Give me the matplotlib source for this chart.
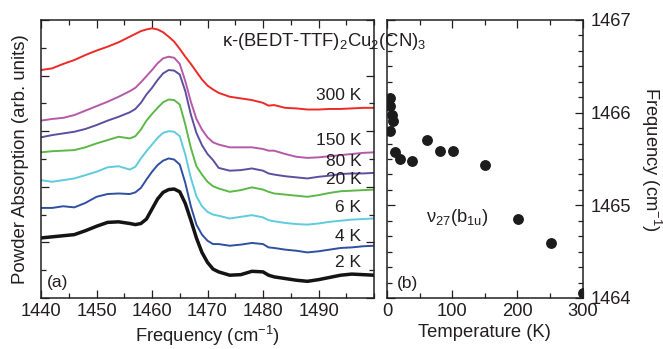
"""
Powder absorption spectra of the nu27(b1u) mode and its peak frequency vs temperature.
"""

import matplotlib

matplotlib.use("Agg")
import matplotlib.pyplot as plt
import numpy as np
from matplotlib.ticker import FixedLocator, MultipleLocator, NullFormatter

plt.rcParams["font.family"] = ["Liberation Sans", "DejaVu Sans"]
plt.rcParams["mathtext.fontset"] = "custom"
plt.rcParams["mathtext.rm"] = "Liberation Sans"
plt.rcParams["mathtext.it"] = "Liberation Sans:italic"
plt.rcParams["mathtext.default"] = "rm"

TEXT_COLOR = "#231f20"

# (a) spectra, offset vertically (arb. units)
freq = [1440, 1442, 1444, 1446, 1448, 1450, 1452, 1454, 1456, 1457,
        1458, 1459, 1460, 1461, 1462, 1463, 1464, 1465, 1466, 1467,
        1468, 1469, 1470, 1471, 1472, 1474, 1476, 1478, 1480, 1481,
        1482, 1484, 1486, 1488, 1490, 1492, 1494, 1496, 1498, 1500]

abs_300K = [4.10, 4.13, 4.21, 4.28, 4.37, 4.45, 4.52, 4.60, 4.70, 4.75,
            4.80, 4.83, 4.85, 4.83, 4.78, 4.70, 4.61, 4.48, 4.34, 4.21,
            4.07, 3.93, 3.82, 3.75, 3.69, 3.62, 3.59, 3.56, 3.51, 3.46,
            3.47, 3.42, 3.41, 3.39, 3.39, 3.40, 3.40, 3.41, 3.42, 3.42]
abs_150K = [3.19, 3.22, 3.24, 3.29, 3.37, 3.45, 3.53, 3.62, 3.72, 3.78,
            3.88, 3.99, 4.10, 4.22, 4.31, 4.34, 4.32, 4.21, 3.90, 3.53,
            3.22, 3.03, 2.89, 2.80, 2.76, 2.71, 2.71, 2.71, 2.68, 2.65,
            2.65, 2.59, 2.54, 2.52, 2.53, 2.55, 2.57, 2.59, 2.61, 2.62]
abs_80K = [2.89, 2.93, 2.96, 2.99, 3.04, 3.11, 3.19, 3.26, 3.34, 3.40,
           3.51, 3.66, 3.78, 3.92, 4.04, 4.10, 4.09, 4.02, 3.72, 3.30,
           2.97, 2.75, 2.59, 2.48, 2.34, 2.29, 2.30, 2.33, 2.29, 2.24,
           2.22, 2.19, 2.17, 2.15, 2.18, 2.20, 2.23, 2.24, 2.24, 2.25]
abs_20K = [2.62, 2.64, 2.65, 2.66, 2.71, 2.78, 2.84, 2.90, 2.87, 2.91,
           3.03, 3.19, 3.31, 3.42, 3.52, 3.57, 3.56, 3.48, 3.12, 2.70,
           2.37, 2.22, 2.09, 2.01, 1.97, 1.91, 1.94, 1.99, 1.95, 1.91,
           1.88, 1.86, 1.84, 1.82, 1.85, 1.89, 1.92, 1.93, 1.94, 1.95]
abs_6K = [2.12, 2.09, 2.12, 2.15, 2.21, 2.27, 2.35, 2.37, 2.31, 2.36,
          2.51, 2.64, 2.76, 2.88, 2.97, 3.00, 2.99, 2.91, 2.58, 2.16,
          1.83, 1.65, 1.55, 1.50, 1.48, 1.43, 1.46, 1.49, 1.45, 1.40,
          1.38, 1.35, 1.33, 1.32, 1.34, 1.37, 1.39, 1.41, 1.42, 1.43]
abs_4K = [1.62, 1.62, 1.65, 1.63, 1.71, 1.82, 1.87, 1.88, 1.87, 1.90,
          1.98, 2.13, 2.27, 2.39, 2.47, 2.51, 2.49, 2.40, 2.07, 1.65,
          1.32, 1.14, 1.03, 0.97, 0.97, 0.94, 0.96, 0.99, 0.97, 0.91,
          0.90, 0.87, 0.85, 0.82, 0.84, 0.87, 0.90, 0.91, 0.93, 0.94]
abs_2K = [1.08, 1.10, 1.12, 1.14, 1.21, 1.29, 1.36, 1.37, 1.34, 1.32,
          1.34, 1.42, 1.60, 1.78, 1.90, 1.95, 1.96, 1.91, 1.70, 1.40,
          1.08, 0.82, 0.64, 0.52, 0.47, 0.41, 0.42, 0.48, 0.47, 0.41,
          0.38, 0.35, 0.32, 0.30, 0.33, 0.37, 0.41, 0.43, 0.42, 0.41]

spectra = [abs_300K, abs_150K, abs_80K, abs_20K, abs_6K, abs_4K, abs_2K]
spectrum_labels = ["300 K", "150 K", "80 K", "20 K", "6 K", "4 K", "2 K"]
label_heights = [3.65, 2.83, 2.46, 2.13, 1.62, 1.11, 0.63]
spectrum_colors = ["#ec2a27", "#b65aa8", "#5d4fa0", "#5cb948",
                   "#5fcbdd", "#2f4fa1", "#141414"]
spectrum_widths = [1.4, 1.4, 1.4, 1.4, 1.4, 1.4, 2.5]

# (b) peak position vs temperature
temperature = [4, 4, 8, 9, 5, 12, 20, 39, 61, 81, 101, 151, 201, 251, 300]
peak_freq = [1466.16, 1466.07, 1465.98, 1465.91, 1465.80, 1465.58, 1465.50,
             1465.48, 1465.71, 1465.59, 1465.59, 1465.43, 1464.85, 1464.59,
             1464.05]


def _style_axes(ax):
    for spine in ax.spines.values():
        spine.set_linewidth(1.1)
        spine.set_color(TEXT_COLOR)
    ax.tick_params(which="both", direction="in", top=True, bottom=True,
                   left=True, right=True, width=0.9, colors=TEXT_COLOR,
                   labelsize=13.2, labelcolor=TEXT_COLOR)
    ax.tick_params(which="major", length=6)
    ax.tick_params(which="minor", length=3.6)


fig = plt.figure(figsize=(6.63, 3.49), dpi=100)
ax1 = fig.add_axes([41 / 663, 1 - 298 / 349, 333 / 663, 278 / 349])
ax2 = fig.add_axes([387 / 663, 1 - 298 / 349, 195.5 / 663, 278 / 349])

# ---- panel (a)
for values, color, lw in zip(spectra, spectrum_colors, spectrum_widths):
    ax1.plot(freq, values, color=color, linewidth=lw, solid_joinstyle="round")

for label, y in zip(spectrum_labels, label_heights):
    ax1.text(1497.7, y, label, ha="right", va="center", fontsize=12.5,
             color=TEXT_COLOR)

ax1.set_xlim(1440, 1500)
ax1.set_ylim(0, 5)
ax1.xaxis.set_major_locator(FixedLocator([1440, 1450, 1460, 1470, 1480, 1490]))
ax1.xaxis.set_minor_locator(MultipleLocator(5))
ax1.yaxis.set_major_locator(MultipleLocator(1))
ax1.yaxis.set_minor_locator(MultipleLocator(0.5))
ax1.yaxis.set_major_formatter(NullFormatter())
_style_axes(ax1)
ax1.set_xlabel("Frequency (cm$^{-1}$)", fontsize=13.2, color=TEXT_COLOR,
               labelpad=3)
ax1.set_ylabel("Powder Absorption (arb. units)", fontsize=13.4,
               color=TEXT_COLOR, labelpad=5)
ax1.text(1441.1, 0.27, "(a)", ha="left", va="center", fontsize=12.5,
         color=TEXT_COLOR)

fig.text(222 / 663, 1 - 42 / 349, r"κ-(BEDT-TTF)$_2$Cu$_2$(CN)$_3$",
         ha="left", va="center", fontsize=13.3, color=TEXT_COLOR)

# ---- panel (b)
ax2.plot(temperature, peak_freq, linestyle="none", marker="o",
         markersize=6.8, color="#1c1c1c")
ax2.set_xlim(0, 300)
ax2.set_ylim(1464, 1467)
ax2.xaxis.set_major_locator(MultipleLocator(100))
ax2.xaxis.set_minor_locator(MultipleLocator(50))
ax2.yaxis.set_major_locator(MultipleLocator(1))
ax2.yaxis.set_minor_locator(FixedLocator(np.arange(1464, 1467.01, 1 / 6)))
ax2.yaxis.tick_right()
ax2.yaxis.set_label_position("right")
_style_axes(ax2)
ax2.tick_params(axis="y", which="both", labelleft=False, labelright=True,
                pad=6)
ax2.set_xlabel("Temperature (K)", fontsize=13.2, color=TEXT_COLOR, labelpad=3)
ax2.set_ylabel("Frequency (cm$^{-1}$)", fontsize=13.2, color=TEXT_COLOR,
               rotation=270, labelpad=23)
ax2.text(60, 1464.87, r"ν$_{27}$(b$_{1u}$)", ha="left", va="center",
         fontsize=13.2, color=TEXT_COLOR)
ax2.text(15, 1464.16, "(b)", ha="left", va="center", fontsize=12.5,
         color=TEXT_COLOR)

fig.savefig("out.png", dpi=100)
